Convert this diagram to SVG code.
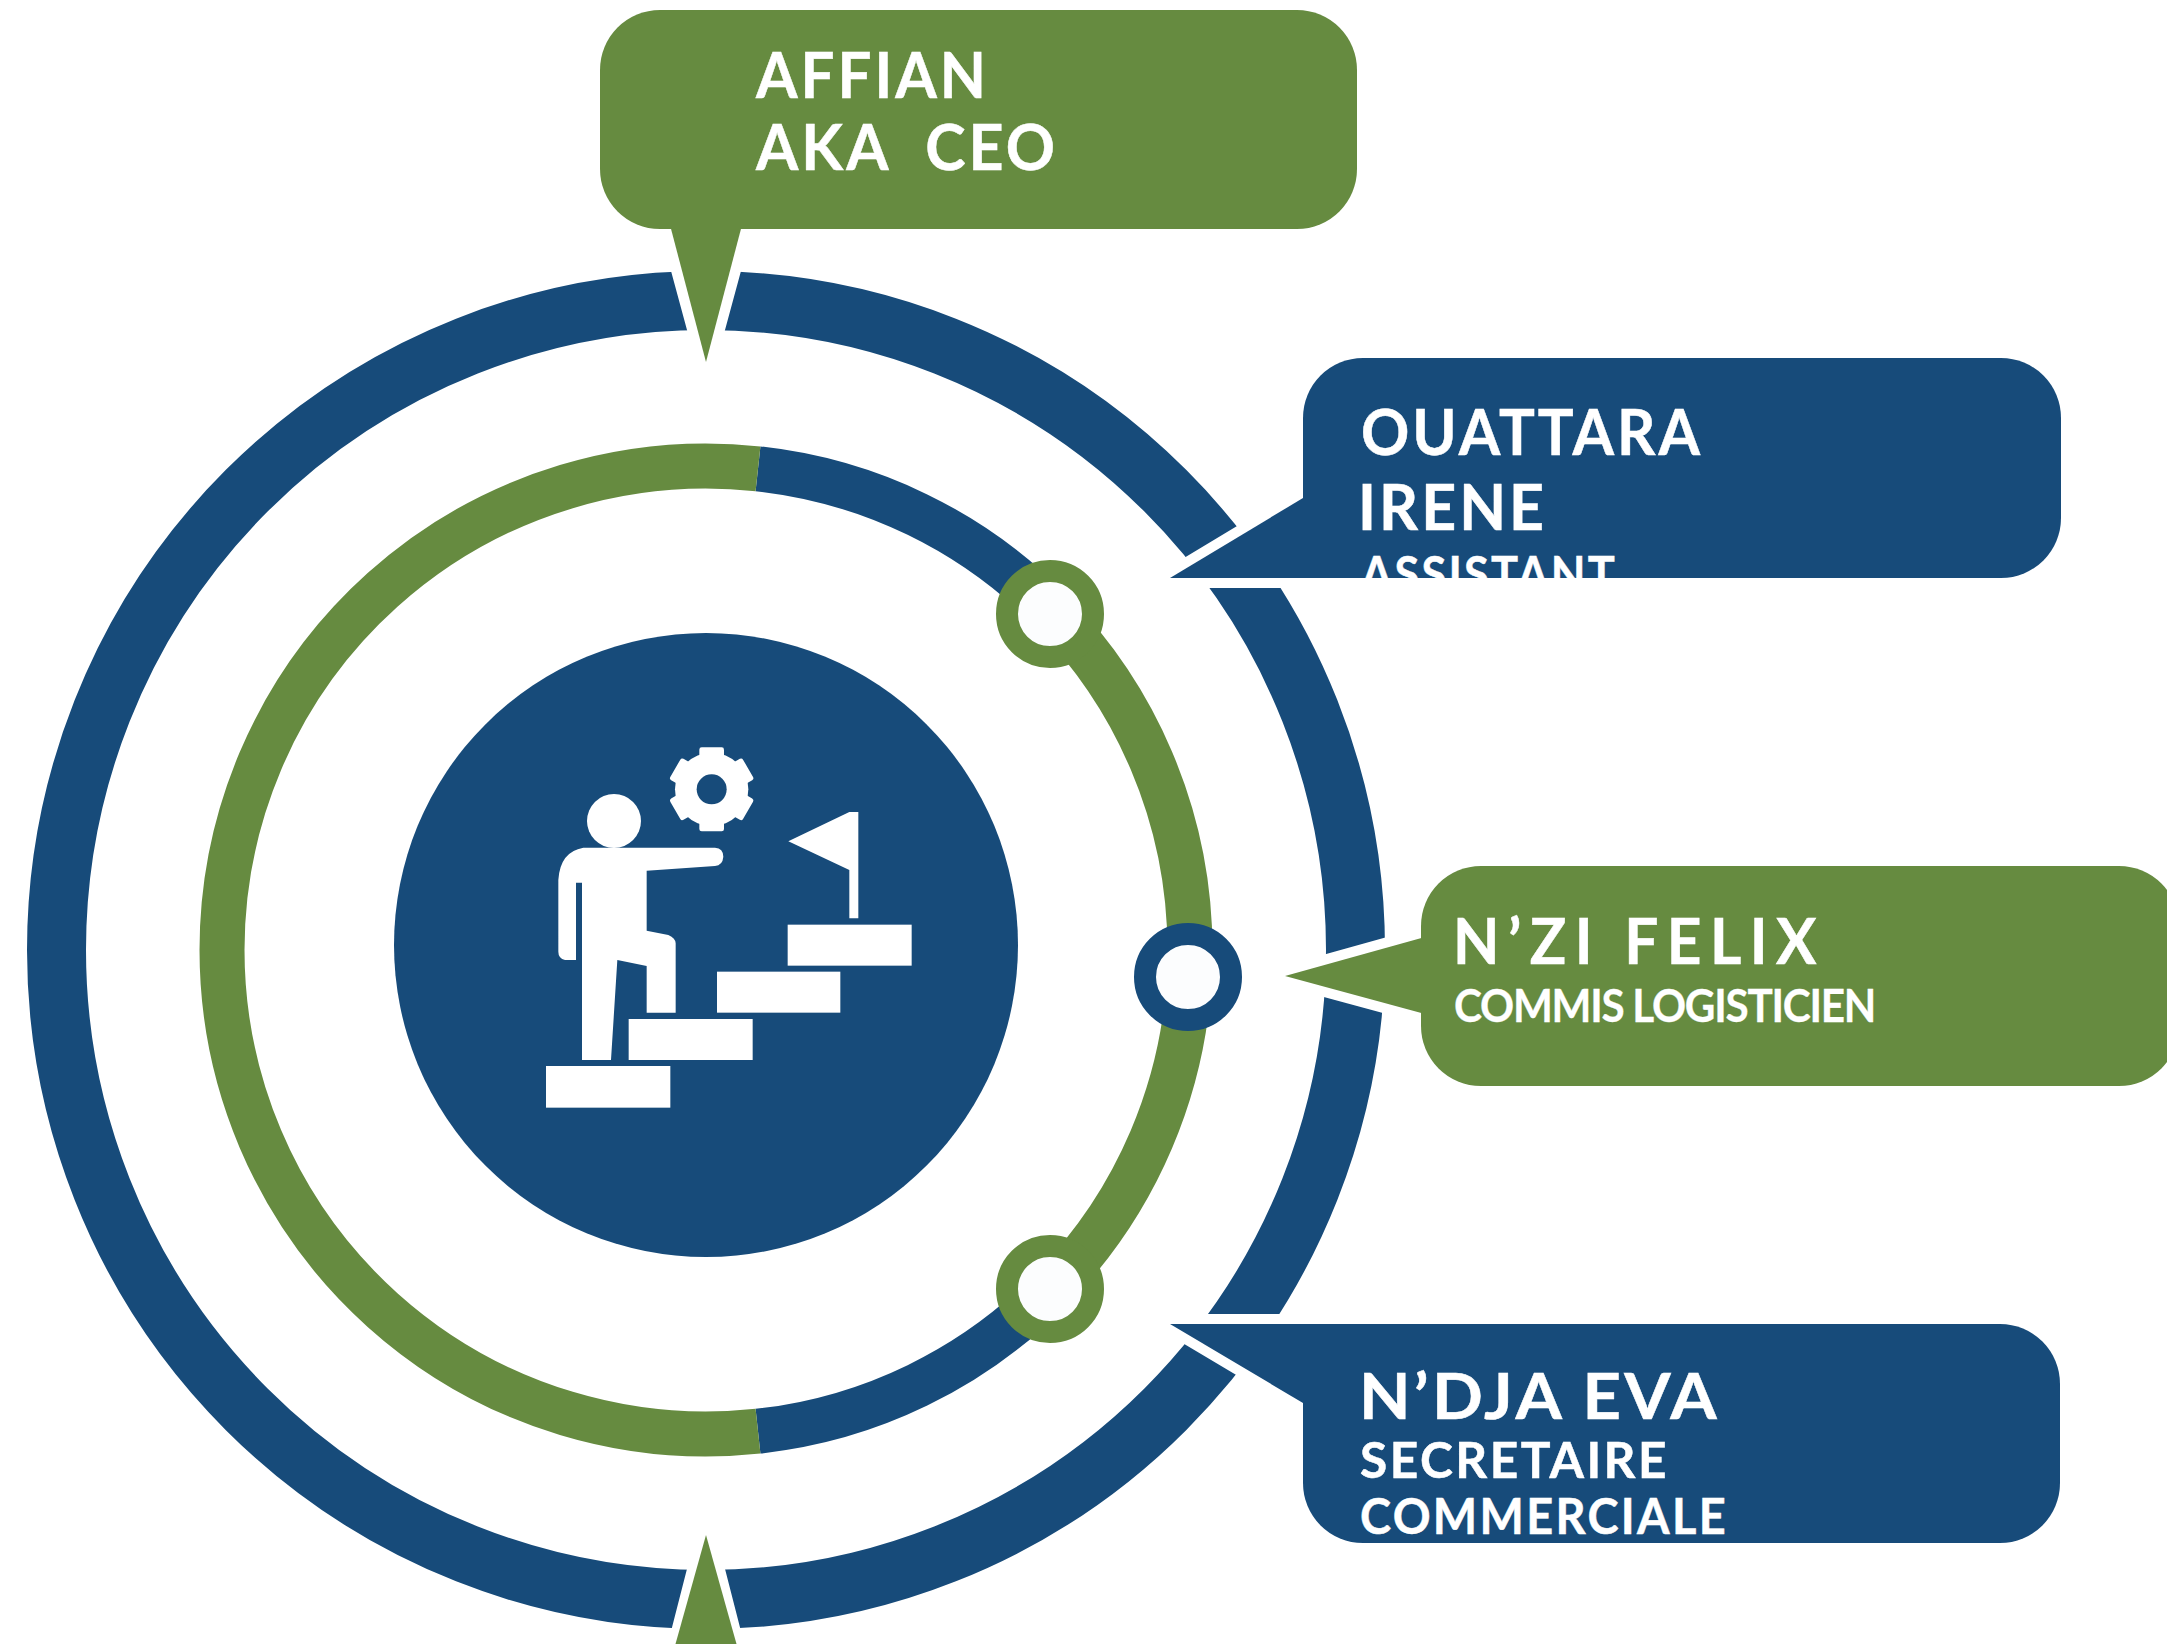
<svg xmlns="http://www.w3.org/2000/svg" width="2167" height="1651" viewBox="0 0 2167 1651">
<style>
.b{fill:#174B7A}.g{fill:#668B40}.w{fill:#fff}
.halo{fill:#fff;stroke:#fff;stroke-width:20;stroke-linejoin:miter;stroke-miterlimit:3}
.arc{fill:none;stroke-linecap:butt}
.t{font-family:"Lato","Open Sans",sans-serif;fill:#fff;stroke:#fff;stroke-width:.5;font-weight:700;letter-spacing:.05em}
.h{font-size:63px}.s{font-size:49px}.c{font-size:45px;letter-spacing:-.03em;stroke-width:.3}
.dot{fill:#FCFDFE;stroke-width:22}
</style>
<defs>
<clipPath id="clipA"><rect x="1303" y="358" width="758" height="220"/></clipPath>
</defs>
<rect width="2167" height="1651" fill="#fff"/>
<g id="connectors">
<circle class="arc" cx="706" cy="950" r="649.5" stroke="#174B7A" stroke-width="59"/>
<path class="arc" stroke="#174B7A" stroke-width="45" d="M758 468.8A484 484 0 0 1 1052 611.6M1052 1288.4A484 484 0 0 1 758 1431.2"/>
<path class="arc" stroke="#668B40" stroke-width="45" d="M758 468.8A484 484 0 1 0 758 1431.2M1052 611.6A484 484 0 0 1 1052 1288.4"/>
</g>
<g id="hub">
<circle class="b" cx="706" cy="945" r="312"/>
<g transform="translate(500 650) scale(.33333)" class="w">
<rect x="138" y="1248" width="373" height="125"/>
<rect x="386" y="1107" width="372" height="123"/>
<rect x="651" y="965" width="370" height="123"/>
<rect x="863" y="824" width="372" height="123"/>
<path d="M1075 486H1048L865 574L1048 660V805H1075Z"/>
<circle cx="342" cy="513" r="81"/>
<path d="M250 593H645Q670 595 670 620Q668 646 645 648L440 662V842L505 855Q527 865 527 880V1088H440V948L352 930L333 1230H246V698H228V930H195Q175 925 175 905V690Q180 605 250 593Z"/>
<g transform="translate(635 418)">
<circle r="110"/>
<rect x="-37" y="-126" width="74" height="60" rx="7"/>
<rect x="-37" y="-126" width="74" height="60" rx="7" transform="rotate(60)"/>
<rect x="-37" y="-126" width="74" height="60" rx="7" transform="rotate(120)"/>
<rect x="-37" y="-126" width="74" height="60" rx="7" transform="rotate(180)"/>
<rect x="-37" y="-126" width="74" height="60" rx="7" transform="rotate(240)"/>
<rect x="-37" y="-126" width="74" height="60" rx="7" transform="rotate(300)"/>
<circle r="45" class="b"/>
</g>
</g>
</g>
<g id="marker-top"><circle class="dot" cx="1050" cy="614" r="43" stroke="#668B40"/></g>
<g id="marker-mid"><circle class="dot" cx="1188" cy="977" r="43" stroke="#174B7A"/></g>
<g id="marker-bottom"><circle class="dot" cx="1050" cy="1289" r="43" stroke="#668B40"/></g>
<g id="callout-affian">
<polygon class="halo" points="670,229 742,229 706,362"/>
<rect class="g" x="600" y="10" width="757" height="219" rx="60"/>
<polygon class="g" points="670,225 742,225 706,362"/>
<text class="t h" x="756" y="98" textLength="233" lengthAdjust="spacingAndGlyphs">AFFIAN</text>
<text class="t h" x="756" y="170" textLength="302" lengthAdjust="spacingAndGlyphs" xml:space="preserve">AKA  CEO</text>
</g>
<g id="callout-ouattara">
<polygon class="halo" points="1170,578 1303,498 1303,578"/>
<rect class="b" x="1303" y="358" width="758" height="220" rx="60"/>
<polygon class="b" points="1170,578 1303,498 1370,498 1370,578"/>
<text class="t h" x="1361" y="455" textLength="342" lengthAdjust="spacingAndGlyphs">OUATTARA</text>
<text class="t h" x="1358" y="530" textLength="189" lengthAdjust="spacingAndGlyphs">IRENE</text>
<text class="t s" x="1361" y="592" textLength="256" lengthAdjust="spacingAndGlyphs" clip-path="url(#clipA)">ASSISTANT</text>
</g>
<g id="callout-felix">
<polygon class="halo" points="1285,976 1421,938 1421,1013"/>
<rect class="g" x="1421" y="866" width="758" height="220" rx="60"/>
<polygon class="g" points="1285,976 1425,937 1425,1014"/>
<text class="t h" x="1453" y="964" textLength="372" lengthAdjust="spacingAndGlyphs" style="letter-spacing:.14em">N’ZI FELIX</text>
<text class="t c" x="1454" y="1022" textLength="421" lengthAdjust="spacingAndGlyphs">COMMIS LOGISTICIEN</text>
</g>
<g id="callout-ndja">
<polygon class="halo" points="1170,1324 1303,1403 1303,1324"/>
<rect class="b" x="1303" y="1324" width="757" height="219" rx="60"/>
<polygon class="b" points="1170,1324 1303,1403 1370,1403 1370,1324"/>
<text class="t h" x="1359" y="1419" textLength="361" lengthAdjust="spacingAndGlyphs">N’DJA EVA</text>
<text class="t s" x="1360" y="1478" textLength="309" lengthAdjust="spacingAndGlyphs">SECRETAIRE</text>
<text class="t s" x="1360" y="1534" textLength="368" lengthAdjust="spacingAndGlyphs">COMMERCIALE</text>
</g>
<g id="callout-bottom">
<polygon class="halo" points="706,1535 675,1656 737,1656"/>
<rect x="640" y="1644" width="140" height="7" class="w"/>
<polygon class="g" points="706,1535 675.5,1644 736.5,1644"/>
</g>
</svg>
